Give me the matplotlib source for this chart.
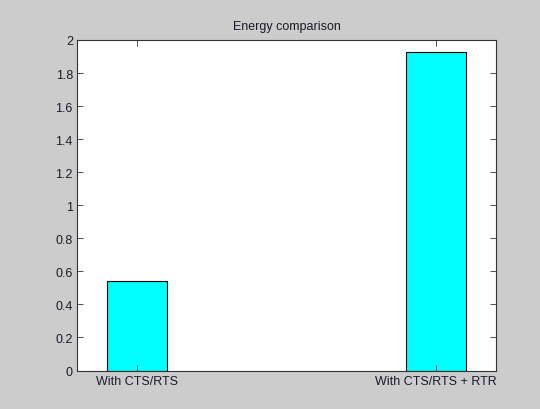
import numpy as np
import matplotlib
matplotlib.use("Agg")
import matplotlib.pyplot as plt

# Data
categories = ["With CTS/RTS", "With CTS/RTS + RTR"]
energy = [0.542, 1.929]
yticks = [0, 0.2, 0.4, 0.6, 0.8, 1, 1.2, 1.4, 1.6, 1.8, 2]

plt.rcParams['font.family'] = ['Liberation Sans', 'DejaVu Sans']
plt.rcParams['font.size'] = 9

fig = plt.figure(figsize=(5.4, 4.1), dpi=100, facecolor='#cccccc')
ax = fig.add_axes([0.1426, 0.0939, 0.7759, 0.8061])

x = np.arange(1, len(categories) + 1)
ax.bar(x, energy, width=0.2, color='#00ffff', edgecolor='black', linewidth=0.8)

ax.set_xlim(0.8, 2.2)
ax.set_ylim(0, 2)
ax.set_xticks(x)
ax.set_xticklabels(categories)
ax.set_yticks(yticks)
ax.set_yticklabels([f"{v:g}" for v in yticks])
ax.tick_params(direction='in', top=True, right=True, length=4, width=0.6,
               colors='#333333', labelcolor='#1a1a2a', pad=3)
for s in ax.spines.values():
    s.set_linewidth(0.8)
    s.set_color('#333333')

ax.set_title("Energy comparison", fontsize=9, color='#1a1a2a', pad=8)

fig.savefig("out.png", dpi=100, facecolor=fig.get_facecolor())
